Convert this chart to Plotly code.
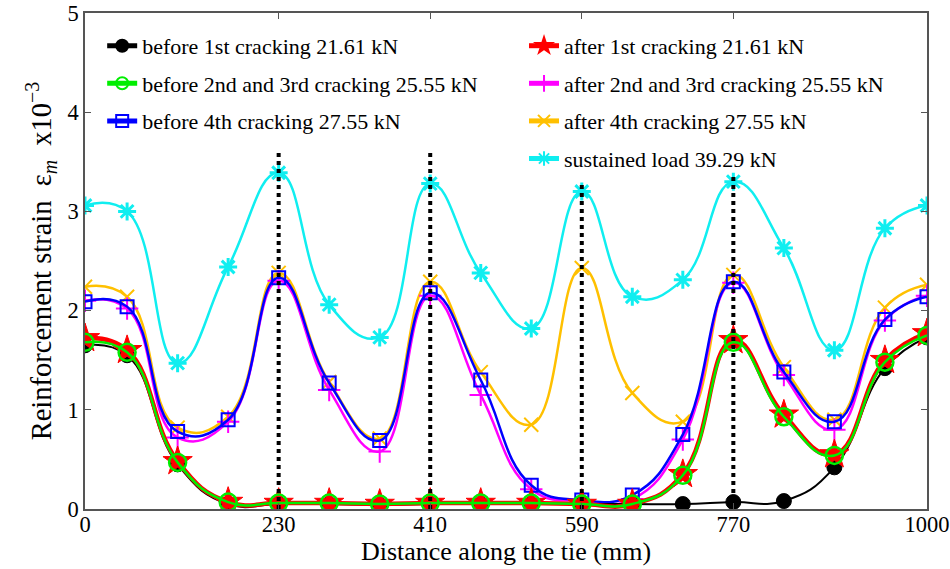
import plotly.graph_objects as go

# Positions along the tie (mm)
distance = [0, 50, 110, 170, 230, 290, 350, 410, 470, 530, 590, 650, 710, 770, 830, 890, 950, 1000]

# Reinforcement strain (x10^-3) for each load stage
before_1st = [1.65, 1.55, 0.45, 0.05, 0.05, 0.05, 0.04, 0.05, 0.05, 0.05, 0.05, 0.05, 0.05, 0.07, 0.08, 0.42, 1.42, 1.73]
after_1st = [1.72, 1.60, 0.48, 0.07, 0.06, 0.06, 0.05, 0.06, 0.06, 0.06, 0.05, 0.05, 0.35, 1.70, 0.95, 0.55, 1.50, 1.77]
before_2nd_3rd = [1.68, 1.58, 0.47, 0.07, 0.06, 0.06, 0.05, 0.06, 0.06, 0.06, 0.05, 0.05, 0.34, 1.68, 0.93, 0.54, 1.48, 1.75]
after_2nd_3rd = [2.10, 2.02, 0.72, 0.88, 2.30, 1.20, 0.58, 2.15, 1.15, 0.20, 0.08, 0.10, 0.70, 2.28, 1.35, 0.80, 1.90, 2.15]
before_4th = [2.09, 2.04, 0.78, 0.90, 2.33, 1.27, 0.69, 2.18, 1.30, 0.24, 0.09, 0.14, 0.75, 2.29, 1.38, 0.88, 1.91, 2.14]
after_4th = [2.24, 2.14, 0.82, 0.93, 2.38, 1.28, 0.71, 2.29, 1.38, 0.85, 2.43, 1.17, 0.88, 2.36, 1.43, 0.90, 2.03, 2.26]
sustained = [3.06, 3.00, 1.47, 2.44, 3.39, 2.06, 1.73, 3.28, 2.38, 1.82, 3.20, 2.14, 2.31, 3.30, 2.63, 1.60, 2.83, 3.06]

# Crack locations (mm) and the height of their marker lines
crack_x = [230, 410, 590, 770]
crack_top = [3.6, 3.6, 3.29, 3.35]

x_ticks = [0, 230, 410, 590, 770, 1000]
y_ticks = [0, 1, 2, 3, 4, 5]

FONT = "Liberation Serif, Times New Roman, serif"

fig = go.Figure()


def add_series(y, name, color, symbol, size, lw, legend, rank, mlw=2, fill=None):
    fig.add_trace(go.Scatter(
        x=distance, y=y, name=name, mode="lines+markers",
        line=dict(color=color, width=lw, shape="spline", smoothing=1.3),
        marker=dict(symbol=symbol, size=size, color=fill or color,
                    line=dict(color=color, width=mlw)),
        legend=legend, legendgroup=name, legendrank=rank,
    ))


# drawing order: back to front
add_series(sustained, "sustained load 39.29 kN", "#10eef0", "asterisk-open", 15, 2.5, "legend2", 4, mlw=3)
add_series(after_4th, "after 4th cracking 27.55 kN", "#ffc000", "x-thin-open", 14, 2.5, "legend2", 3, mlw=2)
add_series(after_2nd_3rd, "after 2nd and 3rd cracking 25.55 kN", "#ff00ff", "cross-thin-open", 16, 2.5, "legend2", 2, mlw=2)
add_series(before_4th, "before 4th cracking 27.55 kN", "#0000ff", "square-open", 13, 2.5, "legend", 3, mlw=2)
add_series(before_1st, "before 1st cracking 21.61 kN", "#000000", "circle", 15, 2.0, "legend", 1, mlw=1)
add_series(after_1st, "after 1st cracking 21.61 kN", "#ff0000", "star", 22, 4.5, "legend2", 1, mlw=1)
add_series(before_2nd_3rd, "before 2nd and 3rd cracking 25.55 kN", "#00ee00", "circle-open", 17, 2.5, "legend", 2, mlw=2.5)

# dotted crack lines
cx, cy = [], []
for xc, top in zip(crack_x, crack_top):
    cx += [xc, xc, None]
    cy += [0, top, None]
fig.add_trace(go.Scatter(
    x=cx, y=cy, mode="lines", showlegend=False, hoverinfo="skip",
    line=dict(color="black", width=4, dash="4px,4px"),
))

legend_common = dict(
    font=dict(family=FONT, size=22, color="black"),
    bgcolor="rgba(255,255,255,0)", borderwidth=0,
    traceorder="grouped", tracegroupgap=6,
    xanchor="left", yanchor="top", itemsizing="constant",
)
fig.update_layout(
    width=950, height=569,
    margin=dict(l=85, r=23, t=13, b=60, autoexpand=False),
    paper_bgcolor="white", plot_bgcolor="white",
    font=dict(family=FONT, size=22.5, color="black"),
    legend=dict(x=0.0204, y=0.976, **legend_common),
    legend2=dict(x=0.5214, y=0.976, **legend_common),
    xaxis=dict(
        range=[0, 1000], tickvals=x_ticks, ticktext=[str(v) for v in x_ticks],
        ticks="inside", ticklen=6, tickcolor="#555", mirror="ticks", automargin=False,
        ticklabelstandoff=-6,
        showline=True, linecolor="#555", linewidth=1.5, showgrid=False, zeroline=False,
        title=dict(text="Distance along the tie (mm)", font=dict(size=26), standoff=2),
    ),
    yaxis=dict(
        range=[0, 5], tickvals=y_ticks, automargin=False,
        ticks="inside", ticklen=6, tickcolor="#555", mirror="ticks",
        showline=True, linecolor="#555", linewidth=1.5, showgrid=False, zeroline=False,
        title=dict(text="Reinforcement strain&nbsp;&nbsp;ε<sub><i>m</i></sub>&nbsp;&nbsp;x10<sup>−3</sup>",
                   font=dict(size=28.5), standoff=8),
    ),
)

fig.write_html("out.html")
